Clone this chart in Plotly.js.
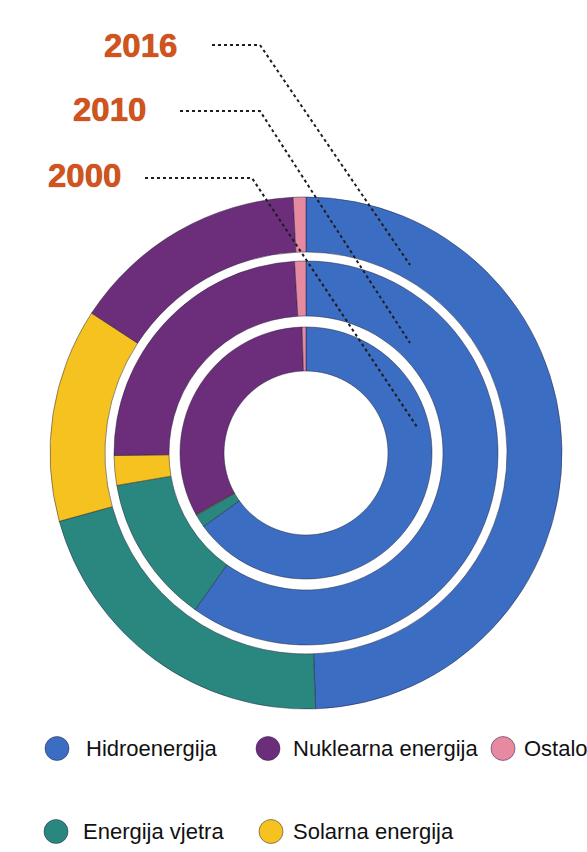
<!DOCTYPE html>
<html>
<head>
<meta charset="utf-8">
<script src="https://cdn.plot.ly/plotly-3.0.1.min.js"></script>
<style>html,body{margin:0;padding:0;background:#fff;}#chart{width:587px;height:852px;}</style>
</head>
<body>
<div id="chart"></div>
<script>
// ---- data ----
const categories = ['Hidroenergija', 'Energija vjetra', 'Solarna energija', 'Nuklearna energija', 'Ostalo'];
const values2000 = [65.1, 1.7, 0.1, 32.6, 0.5];
const values2010 = [59.8, 12.5, 2.5, 24.25, 0.95];
const values2016 = [49.4, 21.3, 13.5, 15.0, 0.8];
const years = ['2000', '2010', '2016'];
const legendOrder = ['Hidroenergija', 'Nuklearna energija', 'Ostalo', 'Energija vjetra', 'Solarna energija'];

// ---- styles ----
const colors = {
  'Hidroenergija': '#3b6dc2',
  'Energija vjetra': '#2a877f',
  'Solarna energija': '#f6c21f',
  'Nuklearna energija': '#6c2e7b',
  'Ostalo': '#e68aa2'
};
const W = 587, H = 852;
const cx = 306, cy = 453;
const rings = [
  {values: values2000, rOut: 126, rIn: 82},
  {values: values2010, rOut: 192, rIn: 137},
  {values: values2016, rOut: 256, rIn: 201}
];
function px(x) { return x / W; }
function py(y) { return 1 - y / H; }

const traces = rings.map((r, i) => ({
  type: 'pie',
  name: years[i],
  labels: categories,
  values: r.values,
  sort: false,
  direction: 'clockwise',
  rotation: 0,
  hole: r.rIn / r.rOut,
  textinfo: 'none',
  hoverinfo: 'skip',
  showlegend: false,
  marker: {colors: categories.map(c => colors[c]), line: {color: 'rgba(35,30,55,0.6)', width: 0.8}},
  domain: {x: [px(cx - r.rOut), px(cx + r.rOut)], y: [py(cy + r.rOut), py(cy - r.rOut)]}
}));

// year labels + leader lines
const yearLabelPos = {'2016': [140, 45], '2010': [109, 110], '2000': [84, 175]};
const leaderPts = {
  '2016': [[212, 45], [260, 45], [410, 265]],
  '2010': [[180, 111], [260, 111], [410, 343]],
  '2000': [[145, 178], [252, 178], [417, 427]]
};
const annotations = [];
const shapes = [];
years.forEach(y => {
  const p = yearLabelPos[y];
  annotations.push({
    xref: 'paper', yref: 'paper', x: px(p[0]), y: py(p[1]), xanchor: 'center', yanchor: 'middle',
    text: '<b>' + y + '</b>', showarrow: false,
    font: {family: 'Liberation Sans, Arial, sans-serif', size: 33, color: '#d4531c', shadow: '0px 0px 1px #7a2508'}
  });
  const pts = leaderPts[y];
  shapes.push({
    type: 'path', xref: 'paper', yref: 'paper',
    path: 'M ' + pts.map(q => px(q[0]) + ',' + py(q[1])).join(' L '),
    line: {color: '#1e1e1e', width: 2, dash: '3px,3px'}
  });
});

// custom legend
const legendPos = {
  'Hidroenergija': [57, 748.5, 84],
  'Nuklearna energija': [268, 748.5, 291],
  'Ostalo': [503, 748.5, 522],
  'Energija vjetra': [56, 831.5, 81],
  'Solarna energija': [271, 831.5, 291]
};
legendOrder.forEach(c => {
  const p = legendPos[c];
  shapes.push({
    type: 'circle', xref: 'paper', yref: 'paper', xsizemode: 'pixel', ysizemode: 'pixel',
    xanchor: px(p[0]), yanchor: py(p[1]), x0: -12, x1: 12, y0: -12, y1: 12,
    fillcolor: colors[c], line: {color: 'rgba(40,30,60,0.5)', width: 1}
  });
  annotations.push({
    xref: 'paper', yref: 'paper', x: px(p[2]), y: py(p[1]), xanchor: 'left', yanchor: 'middle',
    text: c, showarrow: false,
    font: {family: 'Liberation Sans, Arial, sans-serif', size: 22, color: '#111'}
  });
});

const layout = {
  width: W, height: H,
  margin: {l: 0, r: 0, t: 0, b: 0},
  paper_bgcolor: '#ffffff', plot_bgcolor: '#ffffff',
  showlegend: false,
  annotations: annotations,
  shapes: shapes
};
Plotly.newPlot('chart', traces, layout, {displayModeBar: false, staticPlot: true});
</script>
</body>
</html>
